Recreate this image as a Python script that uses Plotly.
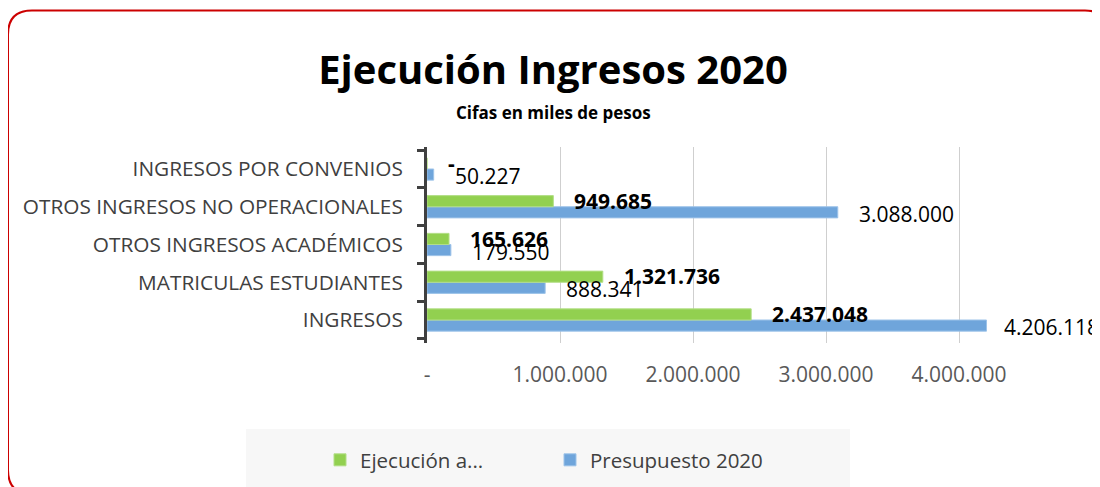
import plotly.graph_objects as go

# ---------------- data ----------------
categories = [
    "INGRESOS",
    "MATRICULAS ESTUDIANTES",
    "OTROS INGRESOS ACADÉMICOS",
    "OTROS INGRESOS NO OPERACIONALES",
    "INGRESOS POR CONVENIOS",
]
ejecucion = [2437048, 1321736, 165626, 949685, 0]
presupuesto = [4206118, 888341, 179550, 3088000, 50227]
ejecucion_labels = ["2.437.048", "1.321.736", "165.626", "949.685", "-"]
presupuesto_labels = ["4.206.118", "888.341", "179.550", "3.088.000", "50.227"]
x_tickvals = [0, 1000000, 2000000, 3000000, 4000000]
x_ticktext = ["-", "1.000.000", "2.000.000", "3.000.000", "4.000.000"]

series_names = ["Ejecución a...", "Presupuesto 2020"]
title_text = "Ejecución Ingresos 2020"
subtitle_text = "Cifas en miles de pesos"

# ---------------- layout geometry ----------------
# the page body adds an 8px margin; screen coords = figure coords + OFF
OFF = 8
W, H = 1100, 487
L = 427 - OFF
PR = 999 - OFF
T = 147 - OFF
PB = 343 - OFF
R, B = W - PR, H - PB
PW, PH = PR - L, PB - T
FONT = "Open Sans"
GREEN, BLUE = "#92D050", "#6FA5DB"


def px(xs):
    """screen x -> paper x"""
    return (xs - OFF - L) / PW


def py(ys):
    """screen y -> paper y"""
    return (PB - (ys - OFF)) / PH


fig = go.Figure()
fig.add_trace(go.Bar(
    y=categories, x=presupuesto, orientation="h", name=series_names[1],
    marker=dict(color=BLUE, line=dict(color="#9DC3E9", width=1)),
    legendrank=2, hoverinfo="x+name",
))
fig.add_trace(go.Bar(
    y=categories, x=ejecucion, orientation="h", name=series_names[0],
    marker=dict(color=GREEN, line=dict(color="#B2DE86", width=1)),
    legendrank=1, hoverinfo="x+name",
))

annotations = []
for cat, v, lab in zip(categories, ejecucion, ejecucion_labels):
    annotations.append(dict(
        x=v, y=cat, xref="x", yref="y", text="<b>" + lab + "</b>", showarrow=False,
        xanchor="left", yanchor="middle", xshift=19, yshift=6,
        font=dict(family=FONT, size=21, color="#000000"),
    ))
for cat, v, lab in zip(categories, presupuesto, presupuesto_labels):
    annotations.append(dict(
        x=v, y=cat, xref="x", yref="y", text=lab, showarrow=False,
        xanchor="left", yanchor="middle", xshift=(15 if v > 4000000 else 19), yshift=-7,
        font=dict(family=FONT, size=21, color="#000000"),
    ))
annotations.append(dict(
    x=px(553), y=py(112), xref="paper", yref="paper", text="<b>" + subtitle_text + "</b>",
    showarrow=False, xanchor="center", yanchor="middle",
    font=dict(family=FONT, size=17, color="#000000"),
))

# rounded red frame (screen coords)
r = 24
x0, x1, y0, y1 = 8, 1109, 10.5, 494
rx, ry = r / PW, r / PH
X0, X1, Y0, Y1 = px(x0), px(x1), py(y0), py(y1)
path = (
    f"M{X0 + rx},{Y0} L{X1 - rx},{Y0} Q{X1},{Y0} {X1},{Y0 - ry} "
    f"L{X1},{Y1 + ry} Q{X1},{Y1} {X1 - rx},{Y1} "
    f"L{X0 + rx},{Y1} Q{X0},{Y1} {X0},{Y1 + ry} "
    f"L{X0},{Y0 - ry} Q{X0},{Y0} {X0 + rx},{Y0} Z"
)
shapes = [
    dict(type="rect", xref="paper", yref="paper", x0=px(246), x1=px(850),
         y0=py(429), y1=py(500), fillcolor="#F7F7F7", line=dict(width=0), layer="below"),
    dict(type="path", xref="paper", yref="paper", path=path,
         line=dict(color="#CC0000", width=2), layer="above"),
]

fig.update_layout(
    width=W, height=H,
    margin=dict(l=L, r=R, t=T, b=B),
    paper_bgcolor="white", plot_bgcolor="white",
    barmode="group", bargap=0.41, bargroupgap=0,
    font=dict(family=FONT, size=20, color="#404040"),
    title=dict(text="<b>" + title_text + "</b>", x=(553 - OFF) / W, xanchor="center",
               y=1 - (70 - OFF) / H, yanchor="middle", yref="container",
               font=dict(family=FONT, size=40, color="#000000")),
    xaxis=dict(range=[0, 4300000], tickvals=x_tickvals, ticktext=x_ticktext,
               showgrid=True, gridcolor="#CFCFCF", gridwidth=1, zeroline=False,
               showline=False, ticks="", ticklabelstandoff=17,
               tickfont=dict(family=FONT, size=21, color="#595959")),
    yaxis=dict(showline=True, linecolor="#404040", linewidth=3, ticks="outside",
               tickson="boundaries", ticklen=7, tickwidth=3, tickcolor="#404040",
               ticklabelstandoff=17, showgrid=False,
               tickfont=dict(family=FONT, size=20.8, color="#404040")),
    showlegend=True,
    legend=dict(orientation="h", x=px(320), xanchor="left", y=py(460), yanchor="middle",
                bgcolor="rgba(0,0,0,0)", entrywidth=185, entrywidthmode="pixels",
                font=dict(family=FONT, size=20.5, color="#404040")),
    annotations=annotations,
    shapes=shapes,
)

fig.write_html("out.html")
